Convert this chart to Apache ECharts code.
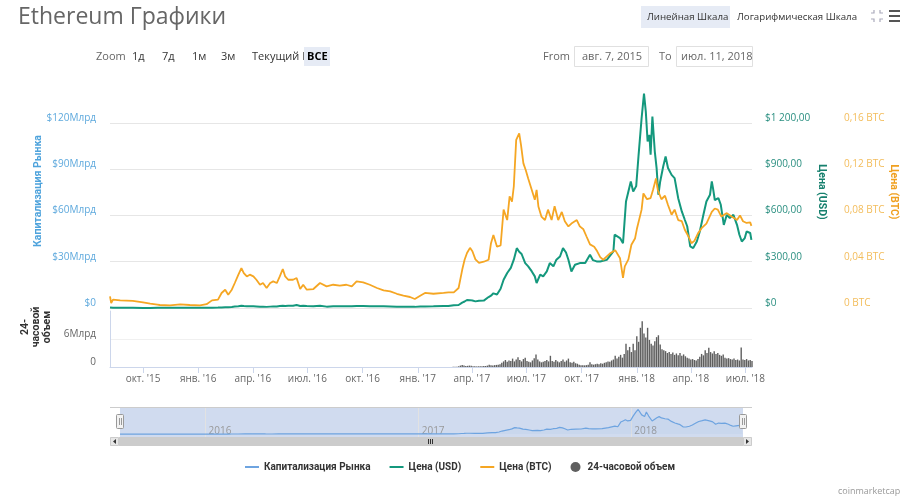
<!DOCTYPE html>
<html><head><meta charset="utf-8">
<script src="https://cdn.jsdelivr.net/npm/echarts@6/dist/echarts.min.js"></script>
<style>html,body{margin:0;padding:0;background:#fff}#c{width:900px;height:500px}</style>
</head><body><div id="c"></div>
<script>
// ---------------- DATA ----------------
const xStart = '2015-08-07', xEnd = '2018-07-12';

const priceUSD = [
['2015-08-07',2.77],['2015-08-09',0.75],['2015-08-12',1.1],['2015-08-24',1.25],['2015-09-14',0.95],['2015-10-01',0.72],['2015-10-13',0.6],['2015-10-25',0.85],['2015-11-15',0.9],['2015-12-02',0.87],['2015-12-18',0.9],
['2016-01-04',0.95],['2016-01-15',1.2],['2016-01-24',2.0],['2016-02-03',2.6],['2016-02-09',3.7],['2016-02-15',5.2],['2016-02-20',4.3],['2016-02-26',6.2],['2016-03-02',9.0],['2016-03-08',11.5],['2016-03-13',14.5],['2016-03-17',12.5],['2016-03-22',11.4],['2016-03-27',11.8],['2016-04-02',11.6],['2016-04-07',10.5],['2016-04-13',8.4],['2016-04-18',8.6],['2016-04-24',7.3],['2016-04-30',8.9],['2016-05-05',10.2],['2016-05-11',9.6],['2016-05-16',12.5],['2016-05-21',14.0],['2016-05-25',12.6],['2016-05-30',13.8],['2016-06-07',14.5],['2016-06-13',19.0],['2016-06-19',12.4],['2016-06-24',14.0],['2016-06-30',12.2],['2016-07-11',10.7],['2016-07-22',14.5],['2016-08-02',8.9],['2016-08-13',11.3],['2016-08-24',11.1],['2016-09-04',11.9],['2016-09-13',12.0],['2016-09-21',13.2],['2016-10-02',13.2],['2016-10-13',11.9],['2016-10-25',11.1],['2016-11-05',10.9],['2016-11-16',10.0],['2016-11-27',8.6],['2016-12-08',8.4],['2016-12-19',7.7],['2016-12-27',7.3],
['2017-01-05',10.2],['2017-01-13',9.8],['2017-01-27',10.6],['2017-02-13',12.8],['2017-02-21',12.6],['2017-03-02',18.5],['2017-03-10',19.3],['2017-03-16',35],['2017-03-20',42],['2017-03-24',52],['2017-03-29',51],['2017-04-02',48.5],['2017-04-07',43],['2017-04-13',47],['2017-04-21',48],['2017-04-29',71],['2017-05-03',80],['2017-05-07',95],['2017-05-13',88],['2017-05-19',125],['2017-05-24',183],['2017-05-30',227],['2017-06-05',260],['2017-06-10',313],['2017-06-15',388],['2017-06-19',365],['2017-06-23',350],['2017-06-29',291],['2017-07-04',270],['2017-07-10',237],['2017-07-15',205],['2017-07-18',162],['2017-07-24',216],['2017-07-29',205],['2017-08-04',237],['2017-08-09',291],['2017-08-15',270],['2017-08-20',313],['2017-08-26',334],['2017-08-31',388],['2017-09-05',360],['2017-09-09',313],['2017-09-14',237],['2017-09-20',280],['2017-09-28',291],['2017-10-07',291],['2017-10-15',345],['2017-10-20',310],['2017-10-26',302],['2017-11-01',302],['2017-11-12',312],['2017-11-23',367],['2017-11-25',475],['2017-12-04',453],['2017-12-09',420],['2017-12-14',690],['2017-12-18',755],['2017-12-22',820],['2017-12-26',755],['2017-12-31',790],
['2018-01-04',993],['2018-01-09',1230],['2018-01-13',1390],['2018-01-16',1273],['2018-01-19',1079],['2018-01-22',1122],['2018-01-24',993],['2018-01-27',1241],['2018-01-31',1014],['2018-02-03',907],['2018-02-06',734],['2018-02-09',820],['2018-02-14',917],['2018-02-18',982],['2018-02-22',907],['2018-02-28',863],['2018-03-05',842],['2018-03-11',712],['2018-03-17',626],['2018-03-22',572],['2018-03-26',530],['2018-03-31',399],['2018-04-05',388],['2018-04-11',431],['2018-04-16',496],['2018-04-22',604],['2018-04-27',690],['2018-05-03',734],['2018-05-06',820],['2018-05-08',777],['2018-05-11',700],['2018-05-17',712],['2018-05-21',669],['2018-05-26',539],['2018-05-31',604],['2018-06-05',583],['2018-06-11',604],['2018-06-17',539],['2018-06-21',475],['2018-06-25',431],['2018-06-30',453],['2018-07-03',496],['2018-07-09',486],['2018-07-11',442]
];

const priceBTC = [
['2015-08-07',0.0100],['2015-08-09',0.0043],['2015-08-12',0.0072],['2015-08-24',0.0066],['2015-09-14',0.0062],['2015-10-01',0.0048],['2015-10-13',0.0037],['2015-10-25',0.0030],['2015-10-29',0.0026],['2015-11-15',0.0022],['2015-12-02',0.0031],['2015-12-18',0.0026],
['2016-01-04',0.0022],['2016-01-15',0.0033],['2016-01-24',0.0066],['2016-02-03',0.0072],['2016-02-09',0.0130],['2016-02-15',0.0158],['2016-02-20',0.0115],['2016-02-26',0.0158],['2016-03-02',0.0216],['2016-03-08',0.0288],['2016-03-13',0.0345],['2016-03-17',0.0302],['2016-03-22',0.0273],['2016-03-27',0.0288],['2016-04-02',0.0273],['2016-04-07',0.0244],['2016-04-13',0.0201],['2016-04-18',0.0216],['2016-04-24',0.0173],['2016-04-30',0.0216],['2016-05-05',0.0230],['2016-05-11',0.0216],['2016-05-16',0.0273],['2016-05-21',0.0337],['2016-05-25',0.0273],['2016-05-30',0.0244],['2016-06-07',0.0244],['2016-06-13',0.0259],['2016-06-19',0.0164],['2016-06-24',0.0201],['2016-06-30',0.0158],['2016-07-11',0.0164],['2016-07-22',0.0216],['2016-08-02',0.0187],['2016-08-13',0.0201],['2016-08-24',0.0193],['2016-09-04',0.0201],['2016-09-13',0.0187],['2016-09-21',0.0230],['2016-10-02',0.0221],['2016-10-13',0.0201],['2016-10-25',0.0173],['2016-11-05',0.0152],['2016-11-16',0.0143],['2016-11-27',0.0123],['2016-12-08',0.0106],['2016-12-19',0.0095],['2016-12-27',0.0078],
['2017-01-05',0.0106],['2017-01-13',0.0130],['2017-01-27',0.0123],['2017-02-13',0.0130],['2017-02-21',0.0135],['2017-03-02',0.0135],['2017-03-10',0.0173],['2017-03-16',0.033],['2017-03-20',0.0417],['2017-03-24',0.0475],['2017-03-29',0.052],['2017-04-02',0.049],['2017-04-07',0.042],['2017-04-13',0.039],['2017-04-21',0.040],['2017-04-29',0.0417],['2017-05-03',0.056],['2017-05-07',0.063],['2017-05-13',0.053],['2017-05-19',0.054],['2017-05-24',0.085],['2017-05-30',0.076],['2017-06-03',0.0964],['2017-06-07',0.092],['2017-06-10',0.105],['2017-06-14',0.1453],['2017-06-19',0.151],['2017-06-22',0.141],['2017-06-26',0.125],['2017-06-30',0.119],['2017-07-04',0.112],['2017-07-10',0.102],['2017-07-15',0.0935],['2017-07-18',0.102],['2017-07-21',0.0877],['2017-07-26',0.079],['2017-08-01',0.076],['2017-08-06',0.085],['2017-08-12',0.076],['2017-08-17',0.088],['2017-08-23',0.076],['2017-08-29',0.083],['2017-09-03',0.075],['2017-09-09',0.0705],['2017-09-14',0.073],['2017-09-23',0.076],['2017-09-28',0.0705],['2017-10-04',0.068],['2017-10-09',0.062],['2017-10-15',0.055],['2017-10-22',0.053],['2017-10-27',0.049],['2017-11-01',0.044],['2017-11-06',0.0417],['2017-11-12',0.0446],['2017-11-17',0.047],['2017-11-26',0.050],['2017-12-04',0.043],['2017-12-09',0.026],['2017-12-12',0.036],['2017-12-18',0.042],['2017-12-23',0.0547],['2017-12-29',0.060],
['2018-01-01',0.068],['2018-01-09',0.085],['2018-01-12',0.099],['2018-01-18',0.094],['2018-01-24',0.095],['2018-01-28',0.102],['2018-02-02',0.112],['2018-02-05',0.102],['2018-02-11',0.094],['2018-02-17',0.097],['2018-02-22',0.089],['2018-02-28',0.0806],['2018-03-05',0.085],['2018-03-11',0.076],['2018-03-17',0.075],['2018-03-22',0.0676],['2018-03-28',0.062],['2018-04-02',0.056],['2018-04-07',0.058],['2018-04-13',0.0645],['2018-04-19',0.069],['2018-04-27',0.073],['2018-05-06',0.083],['2018-05-11',0.086],['2018-05-16',0.085],['2018-05-22',0.079],['2018-05-31',0.082],['2018-06-08',0.079],['2018-06-17',0.076],['2018-06-22',0.080],['2018-06-27',0.075],['2018-07-03',0.0735],['2018-07-09',0.074],['2018-07-11',0.071]
];

// market cap, billions USD
const marketCapBn = [
['2015-08-07',0.2],['2015-08-09',0.054],['2015-08-24',0.09],['2015-09-14',0.069],['2015-10-13',0.044],['2015-11-15',0.066],['2015-12-18',0.067],['2016-01-15',0.09],['2016-01-24',0.155],['2016-02-09',0.29],['2016-02-15',0.40],['2016-02-26',0.48],['2016-03-08',0.9],['2016-03-13',1.14],['2016-03-22',0.9],['2016-04-02',0.91],['2016-04-13',0.66],['2016-04-24',0.58],['2016-05-05',0.81],['2016-05-21',1.12],['2016-06-07',1.17],['2016-06-13',1.53],['2016-06-19',1.0],['2016-06-30',0.99],['2016-07-11',0.87],['2016-07-22',1.18],['2016-08-02',0.73],['2016-08-13',0.93],['2016-09-04',0.98],['2016-09-21',1.1],['2016-10-02',1.1],['2016-10-25',0.93],['2016-11-16',0.85],['2016-12-08',0.72],['2016-12-27',0.63],
['2017-01-05',0.89],['2017-01-27',0.93],['2017-02-21',1.1],['2017-03-02',1.63],['2017-03-10',1.7],['2017-03-16',3.1],['2017-03-20',3.7],['2017-03-24',4.6],['2017-03-29',4.5],['2017-04-07',3.8],['2017-04-21',4.2],['2017-04-29',6.3],['2017-05-07',8.5],['2017-05-13',7.9],['2017-05-19',11.3],['2017-05-24',16.6],['2017-05-30',20.7],['2017-06-05',24.0],['2017-06-10',28.6],['2017-06-15',35.5],['2017-06-19',33.8],['2017-06-23',32.5],['2017-06-29',26.8],['2017-07-04',25.4],['2017-07-10',22.3],['2017-07-15',19.3],['2017-07-18',15.2],['2017-07-24',20.3],['2017-07-29',19.3],['2017-08-04',22.3],['2017-08-09',27.4],['2017-08-15',25.4],['2017-08-20',29.4],['2017-08-26',31.4],['2017-08-31',36.5],['2017-09-05',33.8],['2017-09-09',29.4],['2017-09-14',22.3],['2017-09-20',26.3],['2017-09-28',27.4],['2017-10-07',27.8],['2017-10-15',32.9],['2017-10-20',29.6],['2017-10-26',28.8],['2017-11-01',28.8],['2017-11-12',29.8],['2017-11-23',35.0],['2017-11-25',45.4],['2017-12-04',43.3],['2017-12-09',40.1],['2017-12-14',65.9],['2017-12-18',72.1],['2017-12-22',78.3],['2017-12-26',72.1],['2017-12-31',75.4],
['2018-01-04',96.8],['2018-01-09',119.9],['2018-01-13',135.0],['2018-01-16',124.1],['2018-01-19',105.2],['2018-01-22',109.4],['2018-01-24',96.8],['2018-01-27',121.0],['2018-01-31',98.9],['2018-02-03',88.4],['2018-02-06',71.6],['2018-02-09',80.0],['2018-02-14',89.4],['2018-02-18',95.7],['2018-02-22',88.4],['2018-02-28',84.1],['2018-03-05',82.1],['2018-03-11',69.4],['2018-03-17',61.0],['2018-03-22',55.8],['2018-03-26',51.7],['2018-03-31',39.9],['2018-04-05',38.8],['2018-04-11',43.1],['2018-04-16',49.6],['2018-04-22',60.4],['2018-04-27',69.0],['2018-05-03',73.4],['2018-05-06',82.0],['2018-05-08',77.7],['2018-05-11',70.0],['2018-05-17',71.2],['2018-05-21',66.9],['2018-05-26',53.9],['2018-05-31',60.4],['2018-06-05',58.3],['2018-06-11',60.4],['2018-06-17',53.9],['2018-06-21',47.5],['2018-06-25',43.1],['2018-06-30',45.3],['2018-07-03',49.6],['2018-07-09',48.6],['2018-07-11',44.2]
];

// 24h volume, billions USD, one value every volumeStepDays from volumeStart
const volumeStart = '2017-03-01';
const volumeStepDays = 3;
const volumeBn = [
0.05,0.06,0.08,0.15,0.3,0.45,0.3,0.2,0.25,0.3, 0.25,0.18,0.15,0.12,0.15,0.14,0.18,0.2,0.22,0.3, 0.5,0.35,0.3,0.4,0.45,0.5,0.6,
0.9,1.2,1.5,1.1,1.4,1.3,1.8,1.2,1.6,2.1, 1.5,1.2,1.7,2.0,1.3,1.1,1.0,1.4,1.9,2.7, 1.6,1.2,1.0,1.1,1.3,1.5,1.2,2.4,1.3,1.1, 1.5,1.2,1.0,1.3,1.6,1.1,1.4,1.8,1.0,0.9, 1.1,0.8,0.7,0.5,
0.4,0.35,0.35,0.4,0.5,1.0,0.6,0.5,0.6,0.7, 0.6,0.8,0.7,0.9,1.0,1.2,1.1,1.4,1.6,2.4, 1.8,2.2,2.6,2.0,2.8,5.0,3.6,4.3,3.2,5.0,
3.6,6.6,5.4,8.4,9.8,7.2,6.3,8.4,5.8,5.0, 4.6,5.5,6.4,6.8,4.8,3.8,3.6,3.4,3.0,3.2, 2.8,3.1,2.6,2.9,2.5,3.0,2.4,2.7,2.3,2.0,
1.8,1.6,1.7,1.5,1.4,1.7,2.2,2.8,2.5,3.6, 3.0,4.1,3.2,2.9,3.4,2.8,3.0,2.6,2.4,2.7, 2.0,1.8,1.9,1.7,1.6,1.8,1.5,1.6,1.4,4.2, 1.6,1.5,1.7,1.4,1.5,1.3
];

const quarterTicks = ['2015-10-01','2016-01-01','2016-04-01','2016-07-01','2016-10-01','2017-01-01','2017-04-01','2017-07-01','2017-10-01','2018-01-01','2018-04-01','2018-07-01'];
const quarterLabels = ["окт. '15","янв. '16","апр. '16","июл. '16","окт. '16","янв. '17","апр. '17","июл. '17","окт. '17","янв. '18","апр. '18","июл. '18"];
const yearTicks = ['2016-01-01','2017-01-01','2018-01-01'];
const yearLabels = ['2016','2017','2018'];

const capTickLabels = ['$0','$30Млрд','$60Млрд','$90Млрд','$120Млрд'];
const usdTickLabels = ['$0','$300,00','$600,00','$900,00','$1 200,00'];
const btcTickLabels = ['0 BTC','0,04 BTC','0,08 BTC','0,12 BTC','0,16 BTC'];
const volTickLabels = ['0','6Млрд'];

// ---------------- CHART ----------------
const ts = d => new Date(d + 'T00:00:00').getTime();
const DAY = 86400000;
const toPairs = arr => arr.map(p => [ts(p[0]), p[1]]);
const volData = volumeBn.map((v, i) => [ts(volumeStart) + i * volumeStepDays * DAY, v]);
const qTs = quarterTicks.map(ts);
const yTs = yearTicks.map(ts);
const FONT = 'Open Sans';
const NARROW = 'Roboto';

const C_CAP = '#6ea4e0', C_USD = '#14987d', C_BTC = '#f5a623', C_VOL = '#5f5f5f';
const gridLineColors = ['#e6e6e6','#e6e6e6','#e6e6e6','#e6e6e6','#e6e6e6','rgba(0,0,0,0)'];
const lineIcon = 'path://M0,0 M0,4 L14,4 L14,6 L0,6 Z M14,10';
const AXFS = 10;

const chart = echarts.init(document.getElementById('c'), null, {renderer: 'canvas'});

function tickLabel(labels, step) {
  return v => { const i = Math.round(v / step); return labels[i] !== undefined ? labels[i] : ''; };
}
function nearestLabel(tsArr, labels) {
  return v => { for (let i = 0; i < tsArr.length; i++) { if (Math.abs(tsArr[i] - v) < DAY / 2) return labels[i]; } return ''; };
}

const txt = (x, y, text, o) => ({type: 'text', x, y, style: Object.assign({text, fill: '#333', fontSize: 11, fontFamily: FONT, verticalAlign: 'middle'}, o || {})});

const option = {
  backgroundColor: '#fff',
  animation: false,
  title: {text: 'Ethereum Графики', left: 13, top: 1, textStyle: {fontSize: 23, fontWeight: 'normal', color: '#666', fontFamily: FONT}},
  legend: {
    left: 245, top: 462, padding: 0, itemWidth: 14, itemHeight: 10, itemGap: 19,
    textStyle: {fontSize: 10, fontWeight: 'bold', color: '#333', fontFamily: NARROW},
    data: [
      {name: 'Капитализация Рынка', icon: lineIcon},
      {name: 'Цена (USD)', icon: lineIcon},
      {name: 'Цена (BTC)', icon: lineIcon},
      {name: '24-часовой объем', icon: 'circle'}
    ]
  },
  grid: [
    {left: 110, right: 148, top: 92, height: 216},
    {left: 110, right: 148, top: 311, height: 56},
    {left: 120, right: 157, top: 408, height: 29, show: true, backgroundColor: '#d0dbef', borderWidth: 0}
  ],
  xAxis: [
    {gridIndex: 0, type: 'value', min: ts(xStart), max: ts(xEnd), show: false},
    {gridIndex: 1, type: 'value', min: ts(xStart), max: ts(xEnd),
      axisLine: {show: true, lineStyle: {color: '#ccd6eb'}},
      axisTick: {show: true, length: 6, lineStyle: {color: '#ccd6eb'}, customValues: qTs},
      axisLabel: {customValues: qTs, color: '#666', fontSize: AXFS, fontFamily: FONT, margin: 7, formatter: nearestLabel(qTs, quarterLabels)},
      splitLine: {show: false}},
    {gridIndex: 2, type: 'value', min: ts(xStart), max: ts(xEnd),
      axisLine: {show: false},
      axisTick: {show: false, customValues: yTs},
      axisLabel: {customValues: yTs, inside: true, align: 'left', verticalAlign: 'bottom', padding: [0, 0, 0, 3], margin: 1,
        color: '#999', fontSize: 10, fontFamily: FONT, formatter: nearestLabel(yTs, yearLabels)},
      splitLine: {show: true, lineStyle: {color: '#e2e2e2'}}}
  ],
  yAxis: [
    {gridIndex: 0, type: 'value', min: 0, max: 140, interval: 30, position: 'left',
      axisLine: {show: false}, axisTick: {show: false},
      axisLabel: {formatter: tickLabel(capTickLabels, 30), color: '#5ea9dd', fontSize: AXFS, fontFamily: FONT, margin: 14, verticalAlign: 'bottom', showMaxLabel: false},
      splitLine: {show: true, showMaxLine: false, lineStyle: {color: gridLineColors}}},
    {gridIndex: 0, type: 'value', min: 0, max: 1400, interval: 300, position: 'right',
      axisLine: {show: false}, axisTick: {show: false},
      axisLabel: {formatter: tickLabel(usdTickLabels, 300), color: '#2a8f80', fontSize: AXFS, fontFamily: FONT, margin: 13, verticalAlign: 'bottom', showMaxLabel: false},
      splitLine: {show: false}},
    {gridIndex: 0, type: 'value', min: 0, max: 0.16 * 1400 / 1200, interval: 0.04, position: 'right', offset: 79,
      axisLine: {show: false}, axisTick: {show: false},
      axisLabel: {formatter: tickLabel(btcTickLabels, 0.04), color: '#f3bd5c', fontSize: AXFS, fontFamily: FONT, margin: 13, verticalAlign: 'bottom', showMaxLabel: false},
      splitLine: {show: false}},
    {gridIndex: 1, type: 'value', min: 0, max: 12, interval: 6, position: 'left',
      axisLine: {show: true, lineStyle: {color: '#ccd6eb'}}, axisTick: {show: false},
      axisLabel: {formatter: tickLabel(volTickLabels, 6), color: '#666', fontSize: AXFS, fontFamily: FONT, margin: 14, verticalAlign: 'bottom', showMaxLabel: false},
      splitLine: {show: true, showMaxLine: false, lineStyle: {color: ['#f0f0f0','#f0f0f0','rgba(0,0,0,0)']}}},
    {gridIndex: 2, type: 'value', min: -16, max: 143, show: false}
  ],
  series: [
    {name: 'Цена (USD)', type: 'line', xAxisIndex: 0, yAxisIndex: 1, data: toPairs(priceUSD), showSymbol: false, z: 3,
      lineStyle: {color: C_USD, width: 2}, itemStyle: {color: C_USD}},
    {name: 'Цена (BTC)', type: 'line', xAxisIndex: 0, yAxisIndex: 2, data: toPairs(priceBTC), showSymbol: false, z: 4,
      lineStyle: {color: C_BTC, width: 1.8}, itemStyle: {color: C_BTC}},
    {name: '24-часовой объем', type: 'bar', xAxisIndex: 1, yAxisIndex: 3, data: volData, barWidth: 1.4, itemStyle: {color: C_VOL}},
    {name: 'Капитализация Рынка', type: 'line', xAxisIndex: 2, yAxisIndex: 4, data: toPairs(marketCapBn), showSymbol: false, z: 3,
      lineStyle: {color: C_CAP, width: 1.2}, itemStyle: {color: C_CAP}, areaStyle: {color: 'rgba(100,140,210,0.08)'}}
  ],
  graphic: [
    {type: 'rect', shape: {x: 641, y: 6, width: 89, height: 22}, style: {fill: '#e6ebf5'}},
    txt(647, 17, 'Линейная Шкала', {fontSize: 9.7}),
    txt(737, 17, 'Логарифмическая Шкала', {fontSize: 9.7}),
    {type: 'polyline', shape: {points: [[871, 13], [874, 13], [874, 10]]}, style: {stroke: '#aab', lineWidth: 1.2, fill: null}},
    {type: 'polyline', shape: {points: [[880, 10], [880, 13], [883, 13]]}, style: {stroke: '#aab', lineWidth: 1.2, fill: null}},
    {type: 'polyline', shape: {points: [[871, 19], [874, 19], [874, 22]]}, style: {stroke: '#aab', lineWidth: 1.2, fill: null}},
    {type: 'polyline', shape: {points: [[880, 22], [880, 19], [883, 19]]}, style: {stroke: '#aab', lineWidth: 1.2, fill: null}},
    {type: 'rect', shape: {x: 889, y: 10, width: 11, height: 2}, style: {fill: '#555'}},
    {type: 'rect', shape: {x: 889, y: 15, width: 11, height: 2}, style: {fill: '#555'}},
    {type: 'rect', shape: {x: 889, y: 20, width: 11, height: 2}, style: {fill: '#555'}},
    txt(96, 57, 'Zoom', {fill: '#666'}),
    txt(132, 57, '1д'), txt(162, 57, '7д'), txt(192, 57, '1м'), txt(221, 57, '3м'),
    txt(252, 57, 'Текущий Г'),
    {type: 'rect', shape: {x: 304, y: 47, width: 26, height: 19}, style: {fill: '#e6ebf5'}},
    txt(307, 57, 'ВСЕ', {fontWeight: 'bold', fill: '#000'}),
    txt(543, 57, 'From', {fill: '#666'}),
    {type: 'rect', shape: {x: 574.5, y: 46.5, width: 74, height: 20}, style: {fill: '#fff', stroke: '#e0e0e0'}},
    txt(582, 57, 'авг. 7, 2015', {fill: '#666'}),
    txt(659, 57, 'To', {fill: '#666'}),
    {type: 'rect', shape: {x: 676.5, y: 46.5, width: 76, height: 20}, style: {fill: '#fff', stroke: '#e0e0e0'}},
    txt(681, 57, 'июл. 11, 2018', {fill: '#666'}),
    {type: 'text', x: 38, y: 191, rotation: Math.PI / 2, style: {text: 'Капитализация Рынка', fill: '#4ea3dc', fontSize: 10.5, fontFamily: NARROW, fontWeight: 'bold', align: 'center', verticalAlign: 'middle'}},
    {type: 'text', x: 822, y: 192, rotation: -Math.PI / 2, style: {text: 'Цена (USD)', fill: '#17806e', fontSize: 10.5, fontWeight: 'bold', fontFamily: NARROW, align: 'center', verticalAlign: 'middle'}},
    {type: 'text', x: 894, y: 192, rotation: -Math.PI / 2, style: {text: 'Цена (BTC)', fill: '#f0a020', fontSize: 10.5, fontWeight: 'bold', fontFamily: NARROW, align: 'center', verticalAlign: 'middle'}},
    {type: 'text', x: 36, y: 327, rotation: Math.PI / 2, style: {text: '24-\nчасовой\nобъем', fill: '#333', fontSize: 10.5, fontWeight: 'bold', lineHeight: 11, fontFamily: NARROW, align: 'center', verticalAlign: 'middle'}},
    {type: 'line', shape: {x1: 110, y1: 407.5, x2: 752, y2: 407.5}, style: {stroke: '#cccccc', lineWidth: 1}},
    {type: 'rect', shape: {x: 116.5, y: 414.5, width: 7, height: 14, r: 1}, style: {fill: '#f2f2f2', stroke: '#999'}, z: 10},
    {type: 'line', shape: {x1: 119.5, y1: 418, x2: 119.5, y2: 425}, style: {stroke: '#999'}, z: 11},
    {type: 'line', shape: {x1: 121.5, y1: 418, x2: 121.5, y2: 425}, style: {stroke: '#999'}, z: 11},
    {type: 'rect', shape: {x: 739.5, y: 414.5, width: 7, height: 14, r: 1}, style: {fill: '#f2f2f2', stroke: '#999'}, z: 10},
    {type: 'line', shape: {x1: 742.5, y1: 418, x2: 742.5, y2: 425}, style: {stroke: '#999'}, z: 11},
    {type: 'line', shape: {x1: 744.5, y1: 418, x2: 744.5, y2: 425}, style: {stroke: '#999'}, z: 11},
    {type: 'rect', shape: {x: 110, y: 437, width: 642, height: 9}, style: {fill: '#f2f2f2'}},
    {type: 'rect', shape: {x: 119, y: 437, width: 624, height: 9}, style: {fill: '#cccccc'}},
    {type: 'rect', shape: {x: 110.5, y: 437.5, width: 8, height: 8}, style: {fill: '#e6e6e6', stroke: '#cccccc'}},
    {type: 'polygon', shape: {points: [[116, 439], [113, 441.5], [116, 444]]}, style: {fill: '#333'}},
    {type: 'rect', shape: {x: 743.5, y: 437.5, width: 8, height: 8}, style: {fill: '#e6e6e6', stroke: '#cccccc'}},
    {type: 'polygon', shape: {points: [[746, 439], [749, 441.5], [746, 444]]}, style: {fill: '#333'}},
    {type: 'line', shape: {x1: 428.5, y1: 439, x2: 428.5, y2: 444}, style: {stroke: '#333'}},
    {type: 'line', shape: {x1: 430.5, y1: 439, x2: 430.5, y2: 444}, style: {stroke: '#333'}},
    {type: 'line', shape: {x1: 432.5, y1: 439, x2: 432.5, y2: 444}, style: {stroke: '#333'}},
    txt(838, 491, 'coinmarketcap.com', {fill: '#999', fontSize: 9})
  ]
};
chart.setOption(option);
</script></body></html>
